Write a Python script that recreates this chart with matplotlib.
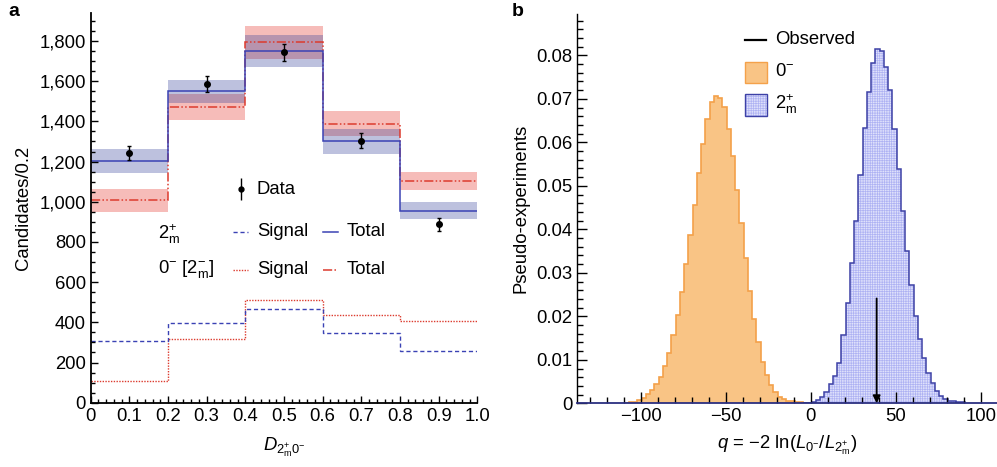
import numpy as np
import matplotlib
matplotlib.use("Agg")
import matplotlib.pyplot as plt
from matplotlib.patches import Rectangle
from matplotlib.ticker import MultipleLocator, FuncFormatter

plt.rcParams['font.family'] = ['Liberation Sans', 'DejaVu Sans']
plt.rcParams['mathtext.fontset'] = 'custom'
plt.rcParams['mathtext.rm'] = 'Liberation Sans'
plt.rcParams['mathtext.it'] = 'Liberation Sans:italic'
plt.rcParams['mathtext.bf'] = 'Liberation Sans:bold'
plt.rcParams['hatch.linewidth'] = 0.5

# ---- panel a data ----
d_edges = [0.0, 0.2, 0.4, 0.6, 0.8, 1.0]
d_centers = [0.1, 0.3, 0.5, 0.7, 0.9]
data_vals = [1242, 1585, 1743, 1303, 887]
data_errs = [36, 40, 41, 37, 30]
total_2m = [1205, 1549, 1750, 1300, 955]
total_2m_err = [60, 57, 80, 62, 43]
total_0m = [1007, 1470, 1793, 1388, 1103]
total_0m_err = [59, 65, 80, 62, 44]
signal_2m = [307, 398, 468, 347, 257]
signal_0m = [106, 317, 511, 436, 405]

# ---- panel b data (pseudo-experiment fractions, bin width 2.5) ----
q_bin = 2.5
q0_start = -109.5
q0_vals = [0.1, 0.2, 0.37, 0.76, 1.15, 2.14, 3.06, 4.44, 6.13, 8.58, 11.5, 15.7,
           20.2, 25.5, 32.1, 38.8, 45.7, 52.9, 59.5, 65.4, 69.3, 70.6, 70.3, 68.2,
           63.0, 56.9, 49.0, 41.4, 33.3, 25.8, 19.4, 14.0, 9.6, 6.5, 4.2, 2.5,
           1.5, 0.9, 0.45, 0.45, 0.2, 0.2, 0.1]
q2_start = -4.5
q2_vals = [0.05, 0.15, 0.38, 0.77, 1.5, 2.7, 4.4, 6.3, 9.3, 15.7, 23.0, 32.2,
           41.9, 52.5, 63.2, 71.6, 78.2, 81.4, 81.1, 77.4, 72.0, 63.0, 53.8, 44.2,
           34.9, 27.2, 20.1, 14.7, 10.3, 7.0, 4.6, 2.8, 1.75, 1.0, 0.53, 0.53,
           0.3, 0.3]
q_observed = 38.8
observed_arrow_top = 0.0241

W, H = 997, 467
fig = plt.figure(figsize=(W / 100, H / 100), dpi=100)


def fp(px, py):
    return (px / W, 1 - py / H)


blue = '#3a42b4'
red = '#dc3b2e'
dashdotdot = (0, (6, 1.5, 1, 1.5, 1, 1.5))
fs = 13.3
hatch_face = '#dfe1fb'
hatch_line = '#aeb2f3'

# ================= panel a =================
ax = fig.add_axes([90.7 / W, 1 - 402.7 / H, 386.6 / W, 389.4 / H])
w = np.diff(d_edges)
lo2 = np.array(total_2m) - np.array(total_2m_err)
lo0 = np.array(total_0m) - np.array(total_0m_err)
ax.bar(d_edges[:-1], 2 * np.array(total_0m_err), bottom=lo0, width=w, align='edge',
       color=(0.9, 0.25, 0.22), alpha=0.35, lw=0)
ax.bar(d_edges[:-1], 2 * np.array(total_2m_err), bottom=lo2, width=w, align='edge',
       color=(0.2, 0.25, 0.6), alpha=0.32, lw=0)
ax.stairs(total_0m, d_edges, color=red, lw=1.1, linestyle=dashdotdot, baseline=None)
ax.stairs(total_2m, d_edges, color=blue, lw=1.1, baseline=None)
ax.stairs(signal_0m, d_edges, color=red, lw=1.0, linestyle=(0, (1, 1)), baseline=None)
ax.stairs(signal_2m, d_edges, color=blue, lw=1.0, linestyle=(0, (3, 2)), baseline=None)
ax.errorbar(d_centers, data_vals, yerr=data_errs, fmt='o', color='k', ms=4,
            elinewidth=1, capsize=1.5, capthick=1, zorder=5)

ax.set_xlim(0, 1.0)
ax.set_ylim(0, 1938)
ax.spines['top'].set_visible(False)
ax.spines['right'].set_visible(False)
for s in ['left', 'bottom']:
    ax.spines[s].set_linewidth(1.3)
ax.xaxis.set_major_locator(MultipleLocator(0.1))
ax.xaxis.set_minor_locator(MultipleLocator(0.02))
ax.yaxis.set_major_locator(MultipleLocator(200))
ax.yaxis.set_minor_locator(MultipleLocator(50))
ax.xaxis.set_major_formatter(FuncFormatter(lambda v, p: '0' if abs(v) < 1e-9 else f'{v:.1f}'))
ax.yaxis.set_major_formatter(FuncFormatter(lambda v, p: f'{v:,.0f}'))
ax.tick_params(which='both', direction='in', labelsize=fs, width=1)
ax.tick_params(which='major', length=5)
ax.tick_params(which='minor', length=3)
ax.set_ylabel('Candidates/0.2', fontsize=fs, labelpad=5)
ax.set_xlabel(r'$D_{2^{+}_{\rm m}0^{-}}$', fontsize=fs, labelpad=8)

# legend of panel a (drawn by hand)
ax.errorbar([fp(241, 189)[0]], [fp(241, 189)[1]], yerr=[0.024], fmt='o', color='k', ms=3.5,
            elinewidth=1, transform=fig.transFigure, clip_on=False)
fig.text(*fp(257, 189), 'Data', fontsize=fs, va='center')
fig.text(*fp(158, 234), r'$2^{+}_{\rm m}$', fontsize=fs, va='center')
fig.text(*fp(158, 269), r'$0^{-}$ [$2^{-}_{\rm m}$]', fontsize=fs, va='center')
rows = [(232, blue, (0, (3, 2)), blue, '-'),
        (270, red, (0, (1, 1)), red, dashdotdot)]
for py, c1, ls1, c2, ls2 in rows:
    x0, y0 = fp(233, py)
    x1, _ = fp(248, py)
    fig.add_artist(plt.Line2D([x0, x1], [y0, y0], color=c1, lw=1.0, linestyle=ls1))
    fig.text(*fp(257, py), 'Signal', fontsize=fs, va='center')
    x0, _ = fp(323, py)
    x1, _ = fp(338, py)
    fig.add_artist(plt.Line2D([x0, x1], [y0, y0], color=c2, lw=1.1, linestyle=ls2))
    fig.text(*fp(347, py), 'Total', fontsize=fs, va='center')

# ================= panel b =================
bx = fig.add_axes([577.3 / W, 1 - 403.3 / H, 419.7 / W, 389.3 / H])
q0_edges = q0_start + q_bin * np.arange(len(q0_vals) + 1)
q2_edges = q2_start + q_bin * np.arange(len(q2_vals) + 1)
q0 = np.array(q0_vals) / 1000
q2 = np.array(q2_vals) / 1000
bx.stairs(q0, q0_edges, fill=True, facecolor='#f9c485', edgecolor='none', lw=0)
bx.stairs(q0, q0_edges, color='#f4a14a', lw=1.2)
bx.stairs(q2, q2_edges, fill=True, facecolor=hatch_face, edgecolor=hatch_line,
          hatch='+++++++', lw=0)
bx.stairs(q2, q2_edges, color='#3d41a6', lw=1.1)
bx.annotate('', xy=(q_observed, 0), xytext=(q_observed, observed_arrow_top),
            arrowprops=dict(arrowstyle='-|>', color='k', lw=1.3, mutation_scale=11,
                            shrinkA=0, shrinkB=0))

bx.set_xlim(-137.3, 109.6)
bx.set_ylim(0, 0.0895)
bx.spines['top'].set_visible(False)
bx.spines['right'].set_visible(False)
bx.spines['left'].set_linewidth(1.0)
bx.spines['bottom'].set_linewidth(1.3)
bx.spines['bottom'].set_color('#2b2f80')
bx.xaxis.set_major_locator(MultipleLocator(50))
bx.xaxis.set_minor_locator(MultipleLocator(10))
bx.yaxis.set_major_locator(MultipleLocator(0.01))
bx.yaxis.set_minor_locator(MultipleLocator(0.002))
bx.yaxis.set_major_formatter(FuncFormatter(lambda v, p: '0' if abs(v) < 1e-9 else f'{v:.2f}'))
bx.tick_params(which='both', direction='in', labelsize=fs, width=1)
bx.tick_params(which='major', length=7)
bx.tick_params(which='minor', length=4)
bx.tick_params(axis='x', which='major', length=8)
bx.set_ylabel('Pseudo-experiments', fontsize=fs, labelpad=5)
bx.set_xlabel(r'$q$ = −2 ln($L_{0^{-}}$/$L_{2^{+}_{\rm m}}$)', fontsize=fs, labelpad=6)

# legend of panel b (drawn by hand)
x0, y0 = fp(745, 40)
x1, _ = fp(766, 40)
fig.add_artist(plt.Line2D([x0, x1], [y0, y0], color='k', lw=1.6))
fig.text(*fp(775, 40), 'Observed', fontsize=fs, va='center')
fig.add_artist(Rectangle(fp(745, 83), 22 / W, 21 / H, transform=fig.transFigure,
                         facecolor='#f9c485', edgecolor='#f4a14a', lw=1.0))
fig.text(*fp(775, 72), r'$0^{-}$', fontsize=fs, va='center')
fig.add_artist(Rectangle(fp(745, 116), 22 / W, 22 / H, transform=fig.transFigure,
                         facecolor=hatch_face, edgecolor=hatch_line, hatch='+++++++', lw=0))
fig.add_artist(Rectangle(fp(745, 116), 22 / W, 22 / H, transform=fig.transFigure,
                         facecolor='none', edgecolor='#3d41a6', lw=1.0))
fig.text(*fp(775, 104), r'$2^{+}_{\rm m}$', fontsize=fs, va='center')

fig.text(*fp(8, 12), 'a', fontsize=14, fontweight='bold', va='center')
fig.text(*fp(512, 12), 'b', fontsize=14, fontweight='bold', va='center')

fig.savefig('out.png', dpi=100)
